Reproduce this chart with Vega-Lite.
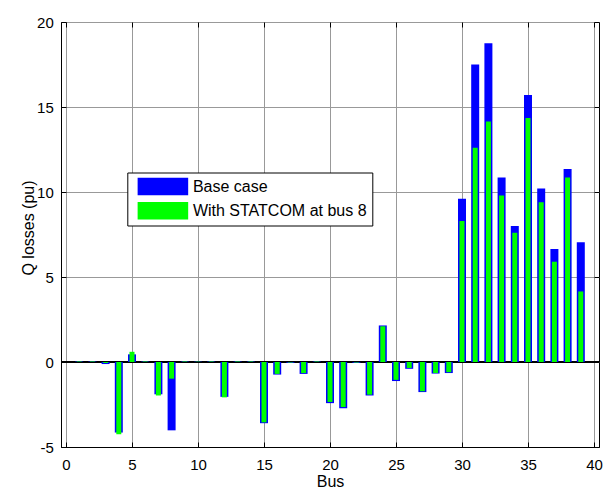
{
  "$schema": "https://vega.github.io/schema/vega-lite/v6.json",
  "width": 538,
  "height": 425,
  "autosize": "none",
  "padding": {"left": 61, "top": 22, "right": 11, "bottom": 42},
  "background": "white",
  "config": {
    "font": "Liberation Sans",
    "view": {"stroke": "#000000", "strokeWidth": 1},
    "axis": {
      "labelFont": "Liberation Sans",
      "labelFontSize": 15,
      "labelColor": "#000000",
      "titleFont": "Liberation Sans",
      "titleFontSize": 16,
      "titleFontWeight": "normal",
      "titleColor": "#000000",
      "domainColor": "#000000",
      "tickColor": "#000000",
      "gridColor": "#999999",
      "gridWidth": 1
    },
    "legend": {
      "labelFont": "Liberation Sans",
      "labelFontSize": 16,
      "labelColor": "#000000",
      "labelLimit": 400
    }
  },
  "data": {
    "values": [
      {"bus": 1, "series": "Base case", "q": 0.03}, {"bus": 1, "series": "With STATCOM at bus 8", "q": 0.03},
      {"bus": 2, "series": "Base case", "q": 0.03}, {"bus": 2, "series": "With STATCOM at bus 8", "q": 0.03},
      {"bus": 3, "series": "Base case", "q": -0.12}, {"bus": 3, "series": "With STATCOM at bus 8", "q": -0.06},
      {"bus": 4, "series": "Base case", "q": -4.15}, {"bus": 4, "series": "With STATCOM at bus 8", "q": -4.25},
      {"bus": 5, "series": "Base case", "q": 0.45}, {"bus": 5, "series": "With STATCOM at bus 8", "q": 0.6},
      {"bus": 6, "series": "Base case", "q": 0.03}, {"bus": 6, "series": "With STATCOM at bus 8", "q": 0.03},
      {"bus": 7, "series": "Base case", "q": -1.9}, {"bus": 7, "series": "With STATCOM at bus 8", "q": -1.97},
      {"bus": 8, "series": "Base case", "q": -4.02}, {"bus": 8, "series": "With STATCOM at bus 8", "q": -0.98},
      {"bus": 9, "series": "Base case", "q": 0.03}, {"bus": 9, "series": "With STATCOM at bus 8", "q": 0.03},
      {"bus": 10, "series": "Base case", "q": 0.02}, {"bus": 10, "series": "With STATCOM at bus 8", "q": 0.02},
      {"bus": 11, "series": "Base case", "q": 0.03}, {"bus": 11, "series": "With STATCOM at bus 8", "q": 0.03},
      {"bus": 12, "series": "Base case", "q": -2.05}, {"bus": 12, "series": "With STATCOM at bus 8", "q": -2.08},
      {"bus": 13, "series": "Base case", "q": 0.03}, {"bus": 13, "series": "With STATCOM at bus 8", "q": 0.03},
      {"bus": 14, "series": "Base case", "q": 0.03}, {"bus": 14, "series": "With STATCOM at bus 8", "q": 0.03},
      {"bus": 15, "series": "Base case", "q": -3.6}, {"bus": 15, "series": "With STATCOM at bus 8", "q": -3.55},
      {"bus": 16, "series": "Base case", "q": -0.74}, {"bus": 16, "series": "With STATCOM at bus 8", "q": -0.7},
      {"bus": 17, "series": "Base case", "q": -0.05}, {"bus": 17, "series": "With STATCOM at bus 8", "q": -0.03},
      {"bus": 18, "series": "Base case", "q": -0.7}, {"bus": 18, "series": "With STATCOM at bus 8", "q": -0.65},
      {"bus": 19, "series": "Base case", "q": 0.03}, {"bus": 19, "series": "With STATCOM at bus 8", "q": 0.03},
      {"bus": 20, "series": "Base case", "q": -2.42}, {"bus": 20, "series": "With STATCOM at bus 8", "q": -2.35},
      {"bus": 21, "series": "Base case", "q": -2.72}, {"bus": 21, "series": "With STATCOM at bus 8", "q": -2.65},
      {"bus": 22, "series": "Base case", "q": -0.05}, {"bus": 22, "series": "With STATCOM at bus 8", "q": -0.03},
      {"bus": 23, "series": "Base case", "q": -1.97}, {"bus": 23, "series": "With STATCOM at bus 8", "q": -1.92},
      {"bus": 24, "series": "Base case", "q": 2.15}, {"bus": 24, "series": "With STATCOM at bus 8", "q": 2.1},
      {"bus": 25, "series": "Base case", "q": -1.12}, {"bus": 25, "series": "With STATCOM at bus 8", "q": -1.05},
      {"bus": 26, "series": "Base case", "q": -0.4}, {"bus": 26, "series": "With STATCOM at bus 8", "q": -0.35},
      {"bus": 27, "series": "Base case", "q": -1.77}, {"bus": 27, "series": "With STATCOM at bus 8", "q": -1.72},
      {"bus": 28, "series": "Base case", "q": -0.68}, {"bus": 28, "series": "With STATCOM at bus 8", "q": -0.65},
      {"bus": 29, "series": "Base case", "q": -0.65}, {"bus": 29, "series": "With STATCOM at bus 8", "q": -0.6},
      {"bus": 30, "series": "Base case", "q": 9.6}, {"bus": 30, "series": "With STATCOM at bus 8", "q": 8.3},
      {"bus": 31, "series": "Base case", "q": 17.5}, {"bus": 31, "series": "With STATCOM at bus 8", "q": 12.6},
      {"bus": 32, "series": "Base case", "q": 18.75}, {"bus": 32, "series": "With STATCOM at bus 8", "q": 14.15},
      {"bus": 33, "series": "Base case", "q": 10.85}, {"bus": 33, "series": "With STATCOM at bus 8", "q": 9.8},
      {"bus": 34, "series": "Base case", "q": 8.0}, {"bus": 34, "series": "With STATCOM at bus 8", "q": 7.6},
      {"bus": 35, "series": "Base case", "q": 15.7}, {"bus": 35, "series": "With STATCOM at bus 8", "q": 14.35},
      {"bus": 36, "series": "Base case", "q": 10.2}, {"bus": 36, "series": "With STATCOM at bus 8", "q": 9.4},
      {"bus": 37, "series": "Base case", "q": 6.65}, {"bus": 37, "series": "With STATCOM at bus 8", "q": 5.9},
      {"bus": 38, "series": "Base case", "q": 11.35}, {"bus": 38, "series": "With STATCOM at bus 8", "q": 10.85},
      {"bus": 39, "series": "Base case", "q": 7.05}, {"bus": 39, "series": "With STATCOM at bus 8", "q": 4.15}
    ]
  },
  "layer": [
    {
      "mark": {"type": "rule", "color": "#000000", "strokeWidth": 1},
      "encoding": {
        "y": {"datum": 0, "type": "quantitative", "scale": {"domain": [-5, 20], "nice": false, "zero": false}, "axis": null}
      }
    },
    {
      "transform": [{"filter": "datum.series === 'Base case'"}],
      "mark": {"type": "bar", "width": 8},
      "encoding": {
        "x": {
          "field": "bus", "type": "quantitative",
          "scale": {"domain": [0, 40], "nice": false, "zero": false},
          "axis": {"orient": "bottom", "title": "Bus", "values": [0, 5, 10, 15, 20, 25, 30, 35, 40],
                   "labelExpr": "'' + datum.value",
                   "tickSize": -5, "labelPadding": 15, "grid": true, "labelFlush": false,
                   "titleY": 39.5, "titleBaseline": "alphabetic"}
        },
        "y": {
          "field": "q", "type": "quantitative",
          "scale": {"domain": [-5, 20], "nice": false, "zero": false},
          "axis": {"orient": "left", "title": "Q losses (pu)", "values": [-5, 0, 5, 10, 15, 20],
                   "labelExpr": "'' + datum.value",
                   "tickSize": -5, "labelPadding": 12.7, "grid": true, "labelFlush": false,
                   "titleX": -28, "titleY": 205.5, "titleBaseline": "alphabetic", "titleAngle": -90}
        },
        "color": {
          "field": "series", "type": "nominal",
          "scale": {"domain": ["Base case", "With STATCOM at bus 8"], "range": ["#0000ff", "#00ff00"]},
          "legend": {
            "orient": "none", "legendX": 66.3, "legendY": 150.5, "title": null,
            "strokeColor": "#000000", "fillColor": "#ffffff", "padding": 5, "cornerRadius": 0,
            "symbolType": "M-2.89,-1H2.89V1H-2.89Z", "symbolSize": 306, "symbolStrokeWidth": 0,
            "symbolOpacity": 1, "symbolOffset": 21.6, "labelOffset": 21, "rowPadding": 6.3, "labelLimit": 400
          }
        }
      }
    },
    {
      "transform": [{"filter": "datum.series === 'With STATCOM at bus 8'"}],
      "mark": {"type": "bar", "width": 5},
      "encoding": {
        "x": {
          "field": "bus", "type": "quantitative",
          "scale": {"domain": [0, 40], "nice": false, "zero": false},
          "axis": {"orient": "top", "title": null, "values": [0, 5, 10, 15, 20, 25, 30, 35, 40], "labels": false,
                   "tickSize": -5, "grid": false, "domain": false}
        },
        "y": {
          "field": "q", "type": "quantitative",
          "scale": {"domain": [-5, 20], "nice": false, "zero": false},
          "axis": {"orient": "right", "title": null, "values": [-5, 0, 5, 10, 15, 20], "labels": false,
                   "tickSize": -5, "grid": false, "domain": false}
        },
        "color": {
          "field": "series", "type": "nominal",
          "scale": {"domain": ["Base case", "With STATCOM at bus 8"], "range": ["#0000ff", "#00ff00"]}
        }
      }
    }
  ]
}
